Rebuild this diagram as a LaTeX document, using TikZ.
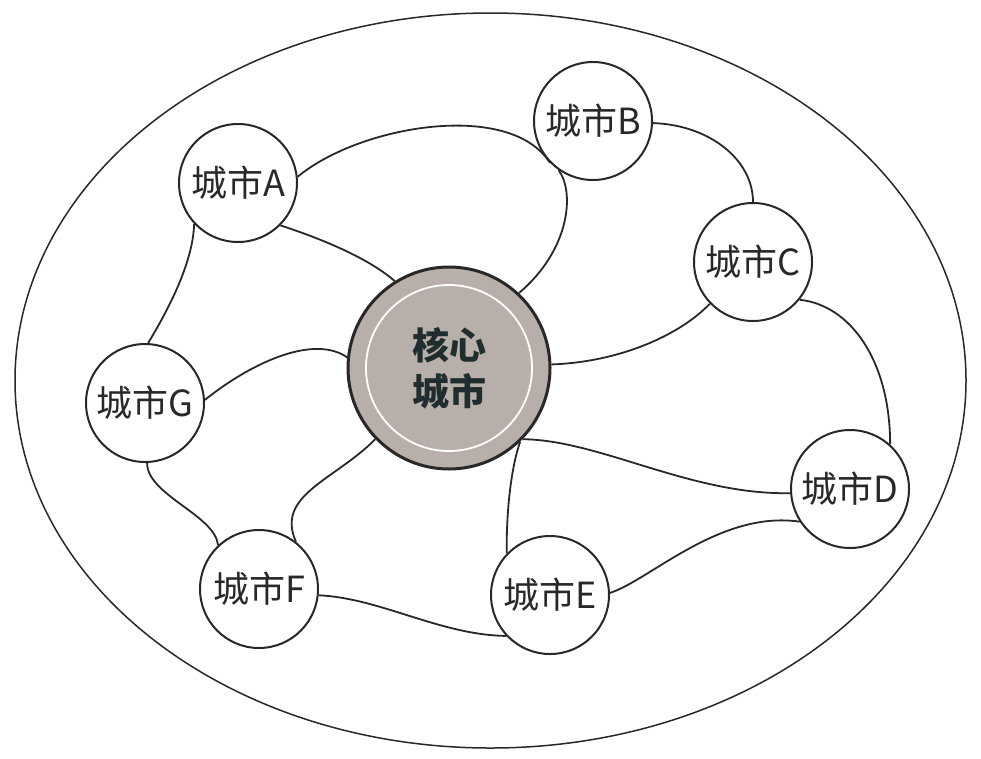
\documentclass[tikz,border=0pt]{standalone}
\usepackage{fontspec}
\setmainfont{Noto Sans CJK SC}
\usepackage{tikz}
\definecolor{coregray}{RGB}{184,175,170}
\definecolor{linegray}{RGB}{40,40,40}
\definecolor{coretext}{RGB}{32,45,46}

\begin{document}
\begin{tikzpicture}[x=1pt, y=-1pt,
    city/.style={circle, draw=linegray, line width=2pt, fill=white, minimum size=118pt, inner sep=0pt, font=\fontsize{36}{40}\selectfont, text=linegray},
    core/.style={circle, draw=linegray, line width=3pt, fill=coregray, minimum size=202pt, inner sep=0pt, align=center, font=\fontsize{37}{46}\selectfont\bfseries, text=coretext},
    link/.style={draw=linegray, line width=1.8pt}]
    \useasboundingbox (0,0) rectangle (981,758);

    % Outer region
    \draw[linegray, line width=1.5pt] (490.5,380.5) ellipse (475.5 and 367.5);

    % Core city
    \node[core] (core) at (449,368) {核心\\城市};
    \draw[white, line width=1.8pt] (core.center) circle (83);

    % Cities
    \node[city] (A) at (238,183) {城市A};
    \node[city] (B) at (593,121) {城市B};
    \node[city] (C) at (753,262) {城市C};
    \node[city] (D) at (850,489) {城市D};
    \node[city] (E) at (550,595) {城市E};
    \node[city] (F) at (259,589) {城市F};
    \node[city] (G) at (145,403) {城市G};

    % Links
    \draw[link] (A.6) .. controls (360,125) and (510,100) .. (B.-136);
    \draw[link] (B.-125) .. controls (575,192) and (570,250) .. (core.47);
    \draw[link] (A.-45) .. controls (310,235) and (365,255) .. (core.122);
    \draw[link] (A.-137) .. controls (193,265) and (165,315) .. (G.87);
    \draw[link] (G.3) .. controls (255,360) and (315,335) .. (core.174);
    \draw[link] (G.-88) .. controls (147,495) and (215,515) .. (F.133);
    \draw[link] (core.-136) .. controls (335,480) and (275,495) .. (F.52);
    \draw[link] (F.-6) .. controls (380,598) and (440,635) .. (E.-137);
    \draw[link] (core.-46) .. controls (510,470) and (506,520) .. (E.136);
    \draw[link] (core.-44) .. controls (600,440) and (690,495) .. (D.-176);
    \draw[link] (E.2) .. controls (650,580) and (720,510) .. (D.-147);
    \draw[link] (C.-39) .. controls (850,305) and (890,360) .. (D.48);
    \draw[link] (C.-136) .. controls (680,335) and (620,362) .. (core.2);
    \draw[link] (B.-2) .. controls (710,125) and (753,160) .. (C.90);
\end{tikzpicture}
\end{document}
